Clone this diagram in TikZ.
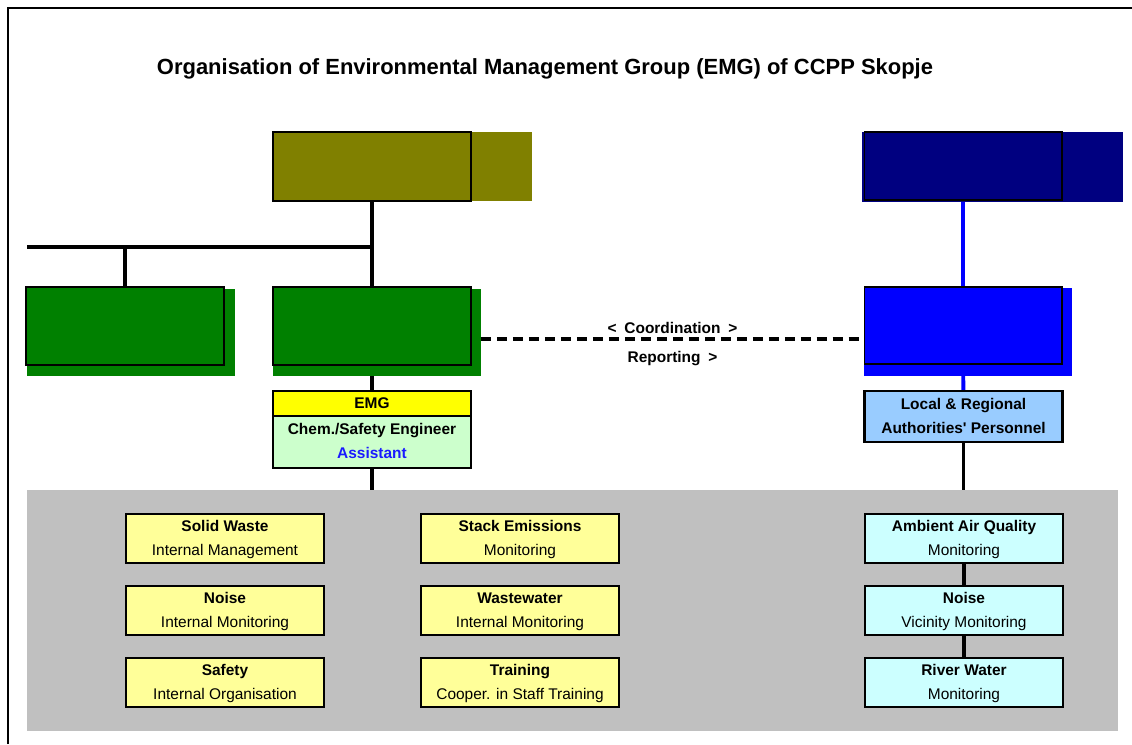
\documentclass[tikz,border=0pt]{standalone}
\usepackage{fontspec}
\setmainfont{Liberation Sans}
\usetikzlibrary{positioning}
\pgfdeclarelayer{back}
\pgfsetlayers{back,main}

\definecolor{olivebox}{HTML}{808000}
\definecolor{navybox}{HTML}{000080}
\definecolor{greenbox}{HTML}{008000}
\definecolor{bluebox}{HTML}{0000FF}
\definecolor{emgyellow}{HTML}{FFFF00}
\definecolor{emggreen}{HTML}{CCFFCC}
\definecolor{localblue}{HTML}{99CCFF}
\definecolor{taskyellow}{HTML}{FFFF99}
\definecolor{taskcyan}{HTML}{CCFFFF}
\definecolor{areagray}{HTML}{C0C0C0}
\definecolor{assist}{HTML}{1A1AFF}

% bold heading over a plain second line
\newcommand{\twoline}[2]{\strut\textbf{#1}\\\strut #2}

\begin{document}
\begin{tikzpicture}[x=0.02cm, y=-0.02cm,
    every node/.style={font=\fontsize{8.8}{13.7}\selectfont},
    block/.style={draw, line width=0.6pt, minimum width=3.96cm, inner sep=0pt, outer sep=0pt},
    task/.style={draw, line width=1.6pt, minimum width=3.96cm, minimum height=0.98cm,
                 align=center, inner sep=0pt, outer sep=0pt},
    link/.style={line width=1.8pt},
    bluelink/.style={line width=2.2pt, bluebox}]
    \useasboundingbox (0,0) rectangle (1132,744);

    % frame
    \draw[line width=1.6pt] (8,744) -- (8,8) -- (1132,8);

    \node[font=\fontsize{12.5}{15}\selectfont\bfseries, anchor=base] (title) at (545,74)
        {Organisation of Environmental Management Group (EMG) of CCPP Skopje};

    % shaded area behind the tasks
    \begin{pgfonlayer}{back}
        \node[fill=areagray, minimum width=21.82cm, minimum height=4.82cm, inner sep=0pt, outer sep=0pt]
            (tasks) at (572.5,610.5) {};
    \end{pgfonlayer}

    % top row
    \fill[olivebox] (273,132) rectangle (532,201);
    \node[block, fill=olivebox, minimum height=1.38cm] (mgmt) at (372,166.5) {};
    \fill[navybox] (862,132) rectangle (1123,202);
    \node[block, fill=navybox, minimum height=1.36cm] (ministry) at (963,166) {};

    % second row
    \fill[greenbox] (27,289) rectangle (235,376);
    \node[block, fill=greenbox, minimum height=1.56cm] (dept) at (125,326) {};
    \fill[greenbox] (273,289) rectangle (481,376);
    \node[block, fill=greenbox, minimum height=1.56cm] (plant) at (372,326) {};
    \fill[bluebox] (864,288) rectangle (1072,376);
    \node[block, fill=bluebox, minimum height=1.54cm] (inspect) at (963,325.5) {};

    % EMG and authorities
    \node[task, fill=emgyellow, minimum height=0.5cm] (emghead) at (372,403.5) {\strut\textbf{EMG}};
    \node[task, fill=emggreen, minimum height=1.04cm, below=0pt of emghead] (emgbody)
        {\strut\textbf{Chem./Safety Engineer}\\\strut\textcolor{assist}{\textbf{Assistant}}};
    \node[task, fill=localblue, minimum height=1.02cm] (local) at (963.5,416.5)
        {\strut\textbf{Local \& Regional}\\\strut\textbf{Authorities\textquotesingle{} Personnel}};

    % tasks
    \node[task, fill=taskyellow] (waste) at (225,538.5) {\twoline{Solid Waste}{Internal Management}};
    \node[task, fill=taskyellow, below=0.46cm of waste] (noisein) {\twoline{Noise}{Internal Monitoring}};
    \node[task, fill=taskyellow, below=0.46cm of noisein] (safety) {\twoline{Safety}{Internal Organisation}};
    \node[task, fill=taskyellow] (stack) at (520,538.5) {\twoline{Stack Emissions}{Monitoring}};
    \node[task, fill=taskyellow, below=0.46cm of stack] (water) {\twoline{Wastewater}{Internal Monitoring}};
    \node[task, fill=taskyellow, below=0.46cm of water] (training) {\twoline{Training}{Cooper. in Staff Training}};
    \node[task, fill=taskcyan] (air) at (964,538.5) {\twoline{Ambient Air Quality}{Monitoring}};
    \node[task, fill=taskcyan, below=0.46cm of air] (noiseout) {\twoline{Noise}{Vicinity Monitoring}};
    \node[task, fill=taskcyan, below=0.46cm of noiseout] (river) {\twoline{River Water}{Monitoring}};

    % connectors
    \begin{pgfonlayer}{back}
        \coordinate (busL) at (27,247);
        \draw[link] (busL) -- (busL -| mgmt.south);
        \draw[link] (dept.north) -- (dept.north |- busL);
        \draw[link] (mgmt) -- (plant);
        \draw[link] (plant) -- (emghead);
        \draw[link] (emgbody) -- (emgbody.south |- tasks.north);
        \draw[bluelink] (ministry) -- (inspect);
        \draw[bluelink] (inspect) -- (local);
        \draw[link] (local) -- (local.south |- tasks.north);
        \draw[link] (air) -- (noiseout);
        \draw[link] (noiseout) -- (river);
        \coordinate (linkL) at ([xshift=0.2cm, yshift=-0.26cm]plant.east);
        \draw[link, dash pattern=on 5.7pt off 3.4pt] (linkL) -- (linkL -| inspect.west)
            node[midway, above, inner sep=2pt, font=\fontsize{8.8}{13.7}\selectfont\bfseries] (coord)
                {<\enspace Coordination\enspace >}
            node[midway, below=0.1cm, font=\fontsize{8.8}{13.7}\selectfont\bfseries] (report)
                {Reporting\enspace >};
    \end{pgfonlayer}
\end{tikzpicture}
\end{document}
